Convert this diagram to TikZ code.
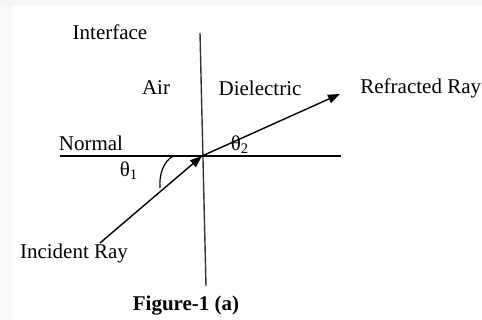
\documentclass[tikz,border=0pt]{standalone}
\usepackage{fontspec}
\setmainfont{Liberation Serif}
\usetikzlibrary{arrows.meta}
\begin{document}
\begin{tikzpicture}[x=0.5pt,y=-0.5pt,
    lbl/.style={inner sep=0pt,font=\fontsize{10.5}{12}\selectfont},
    ray/.style={line width=0.7pt,-{Triangle[length=6pt,width=4.4pt]}}]
  \useasboundingbox (0,0) rectangle (482,320);
  % page edge
  \fill[gray!7] (0,0) rectangle (482,5.5);
  \fill[gray!5] (0,5.5) rectangle (12,320);
  % interface and normal
  \coordinate (o) at (202,156);
  \coordinate (itop) at (200,33);
  \coordinate (ibot) at (206,286);
  \coordinate (nl) at (60,156);
  \coordinate (nr) at (341,156);
  \draw[line width=0.7pt,black!80] (itop) -- (ibot);
  \draw[line width=0.7pt] (nl) -- (nr);
  % rays
  \coordinate (inc) at (100,243);
  \coordinate (refr) at (340,94);
  \draw[ray] (inc) -- (o);
  \draw[ray] (o) -- (refr);
  % angle theta_1
  \draw[line width=0.6pt] (173,156) .. controls (163,162) and (159,175) .. (160,188);
  % labels
  \node[lbl] (interface) at (110,32) {Interface};
  \node[lbl] (air) at (156,88) {Air};
  \node[lbl] (diel) at (260,88) {Dielectric};
  \node[lbl,anchor=west] (reflbl) at (360,88) {Refracted Ray};
  \node[lbl] (normal) at (91,143) {Normal};
  \node[lbl] (th1) at (129,171) {θ\textsubscript{1}};
  \node[lbl] (th2) at (240,145) {θ\textsubscript{2}};
  \node[lbl] (inclbl) at (74,253) {Incident Ray};
  \node[lbl,font=\fontsize{10.5}{12}\selectfont\bfseries] (cap) at (186,306) {Figure-1 (a)};
\end{tikzpicture}
\end{document}
